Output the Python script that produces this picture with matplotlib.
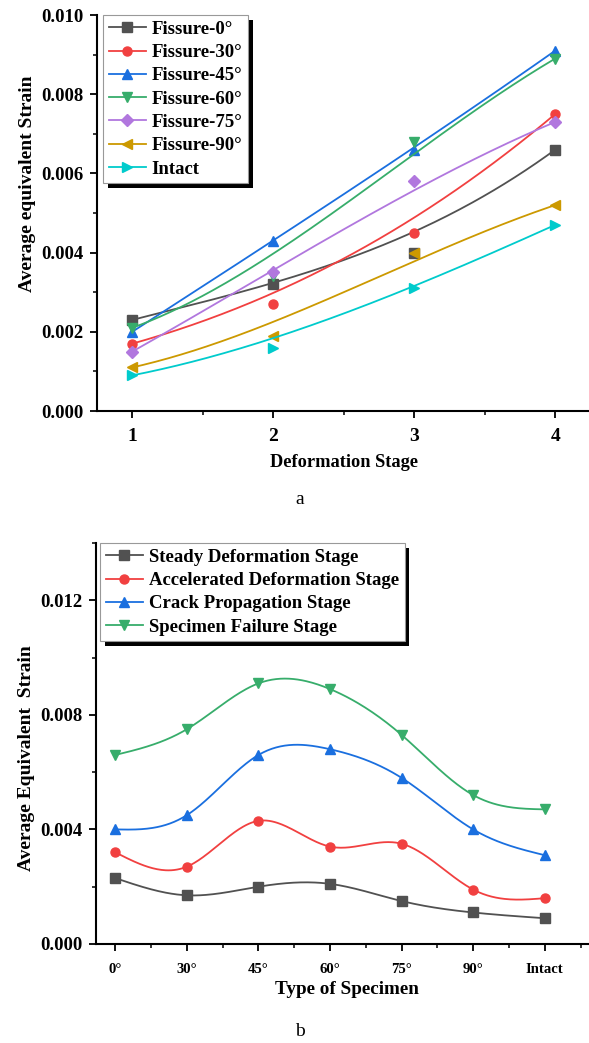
import numpy as np
import matplotlib
matplotlib.use("Agg")
import matplotlib.pyplot as plt
from matplotlib.ticker import MultipleLocator, FormatStrFormatter
import matplotlib.patheffects as pe

plt.rcParams['font.family'] = ['Liberation Serif', 'DejaVu Serif']
plt.rcParams['font.weight'] = 'bold'

# data: one array per deformation stage, values for each specimen type
specimens = ['0°', '30°', '45°', '60°', '75°', '90°', 'Intact']
stages = [1, 2, 3, 4]
steady = [0.0023, 0.0017, 0.0020, 0.0021, 0.0015, 0.0011, 0.0009]
accelerated = [0.0032, 0.0027, 0.0043, 0.0034, 0.0035, 0.0019, 0.0016]
crack = [0.0040, 0.0045, 0.0066, 0.0068, 0.0058, 0.0040, 0.0031]
failure = [0.0066, 0.0075, 0.0091, 0.0089, 0.0073, 0.0052, 0.0047]

stage_names = ['Steady Deformation Stage', 'Accelerated Deformation Stage',
               'Crack Propagation Stage', 'Specimen Failure Stage']
fissure_names = ['Fissure-0°', 'Fissure-30°', 'Fissure-45°', 'Fissure-60°',
                 'Fissure-75°', 'Fissure-90°', 'Intact']

colors = ['#515151', '#F14040', '#1A6FDF', '#37AD6B', '#B177DE', '#CC9900', '#00CBCC']
markers = ['s', 'o', '^', 'v', 'D', '<', '>']


def bezier(x, y, n=200):
    # cubic B-spline with 4 control points (Origin "B-Spline" look)
    t = np.linspace(0, 1, n)
    x = np.asarray(x, float); y = np.asarray(y, float)
    b = [(1-t)**3, 3*t*(1-t)**2, 3*t**2*(1-t), t**3]
    return sum(bi*xi for bi, xi in zip(b, x)), sum(bi*yi for bi, yi in zip(b, y))


def natural_spline(x, y, n=300):
    x = np.asarray(x, float); y = np.asarray(y, float)
    k = len(x); h = np.diff(x)
    A = np.zeros((k, k)); r = np.zeros(k)
    A[0, 0] = A[-1, -1] = 1
    for i in range(1, k-1):
        A[i, i-1] = h[i-1]; A[i, i] = 2*(h[i-1]+h[i]); A[i, i+1] = h[i]
        r[i] = 6*((y[i+1]-y[i])/h[i] - (y[i]-y[i-1])/h[i-1])
    M = np.linalg.solve(A, r)
    xs = np.linspace(x[0], x[-1], n)
    idx = np.clip(np.searchsorted(x, xs) - 1, 0, k-2)
    x0, x1 = x[idx], x[idx+1]; hh = x1 - x0
    a = (x1 - xs)/hh; b = (xs - x0)/hh
    ys = a*y[idx] + b*y[idx+1] + ((a**3-a)*M[idx] + (b**3-b)*M[idx+1])*hh**2/6
    return xs, ys


def style_axes(ax):
    for s in ['top', 'right']:
        ax.spines[s].set_visible(False)
    for s in ['left', 'bottom']:
        ax.spines[s].set_linewidth(1.5)
    ax.tick_params(which='major', direction='out', length=5, width=1.3)
    ax.tick_params(which='minor', direction='out', length=3, width=1.1)


def add_legend(ax, fs, x0):
    leg = ax.legend(loc='upper left', bbox_to_anchor=(x0, 1.0), borderaxespad=0,
                    handlelength=2.0, labelspacing=0.33, borderpad=0.3,
                    handletextpad=0.3, fancybox=False, framealpha=1,
                    prop={'weight': 'bold', 'size': fs})
    fr = leg.get_frame()
    fr.set_edgecolor('#999999'); fr.set_linewidth(0.8)
    fr.set_path_effects([pe.SimplePatchShadow(offset=(3.5, -3.5), shadow_rgbFace='black', alpha=1),
                         pe.Normal()])
    return leg


fig = plt.figure(figsize=(5.89, 10.43), dpi=100)

# ---- chart a ----
ax1 = fig.add_axes([97/589, 632/1043, 493.5/589, 396/1043])
series = np.array([steady, accelerated, crack, failure]).T
for i, name in enumerate(fissure_names):
    xs, ys = bezier(stages, series[i])
    ax1.plot(xs, ys, color=colors[i], lw=1.3)
    ax1.plot(stages, series[i], color=colors[i], marker=markers[i], ms=6.5, linestyle='none')
    ax1.plot([], [], color=colors[i], lw=1.3, marker=markers[i], ms=6.5, label=name)
ax1.set_xlim(0.75, 4.25)
ax1.set_ylim(0, 0.010)
ax1.xaxis.set_major_locator(MultipleLocator(1))
ax1.xaxis.set_minor_locator(MultipleLocator(0.5))
ax1.yaxis.set_major_locator(MultipleLocator(0.002))
ax1.yaxis.set_minor_locator(MultipleLocator(0.001))
ax1.yaxis.set_major_formatter(FormatStrFormatter('%.3f'))
style_axes(ax1)
ax1.tick_params(axis='y', labelsize=13.5, pad=5)
ax1.tick_params(axis='x', labelsize=14, pad=7)
ax1.set_xlabel('Deformation Stage', fontsize=13.2, fontweight='bold', labelpad=7)
ax1.set_ylabel('Average equivalent Strain', fontsize=14, fontweight='bold')
ax1.yaxis.set_label_coords(-0.124, 0.573)
add_legend(ax1, 13.5, 6/493.5)
fig.text(300/589, 1 - 499/1043, 'a', ha='center', va='center', fontsize=14, fontweight='normal')

# ---- chart b ----
ax2 = fig.add_axes([96/589, 99/1043, 501/589, 401/1043])
pos = np.arange(len(specimens))
for i, (name, vals) in enumerate(zip(stage_names, [steady, accelerated, crack, failure])):
    xs, ys = natural_spline(pos, vals)
    ax2.plot(xs, ys, color=colors[i], lw=1.3)
    ax2.plot(pos, vals, color=colors[i], marker=markers[i], ms=6.5, linestyle='none')
    ax2.plot([], [], color=colors[i], lw=1.3, marker=markers[i], ms=6.5, label=name)
ax2.set_xlim(-0.27, 6.73)
ax2.set_ylim(0, 0.014)
ax2.set_xticks(pos)
ax2.set_xticklabels(specimens)
ax2.xaxis.set_minor_locator(MultipleLocator(0.5))
ax2.yaxis.set_major_locator(MultipleLocator(0.004))
ax2.yaxis.set_minor_locator(MultipleLocator(0.002))
ax2.yaxis.set_major_formatter(FormatStrFormatter('%.3f'))
style_axes(ax2)
ax2.tick_params(axis='y', labelsize=13.5, pad=5)
ax2.tick_params(axis='x', labelsize=10.6, pad=9)
ax2.set_xlabel('Type of Specimen', fontsize=13.8, fontweight='bold', labelpad=3)
ax2.set_ylabel('Average Equivalent  Strain', fontsize=14, fontweight='bold')
ax2.yaxis.set_label_coords(-0.122, 0.464)
add_legend(ax2, 13.5, 4/501)
fig.text(300/589, 1 - 1032/1043, 'b', ha='center', va='center', fontsize=14, fontweight='normal')

fig.savefig('out.png', dpi=100)
